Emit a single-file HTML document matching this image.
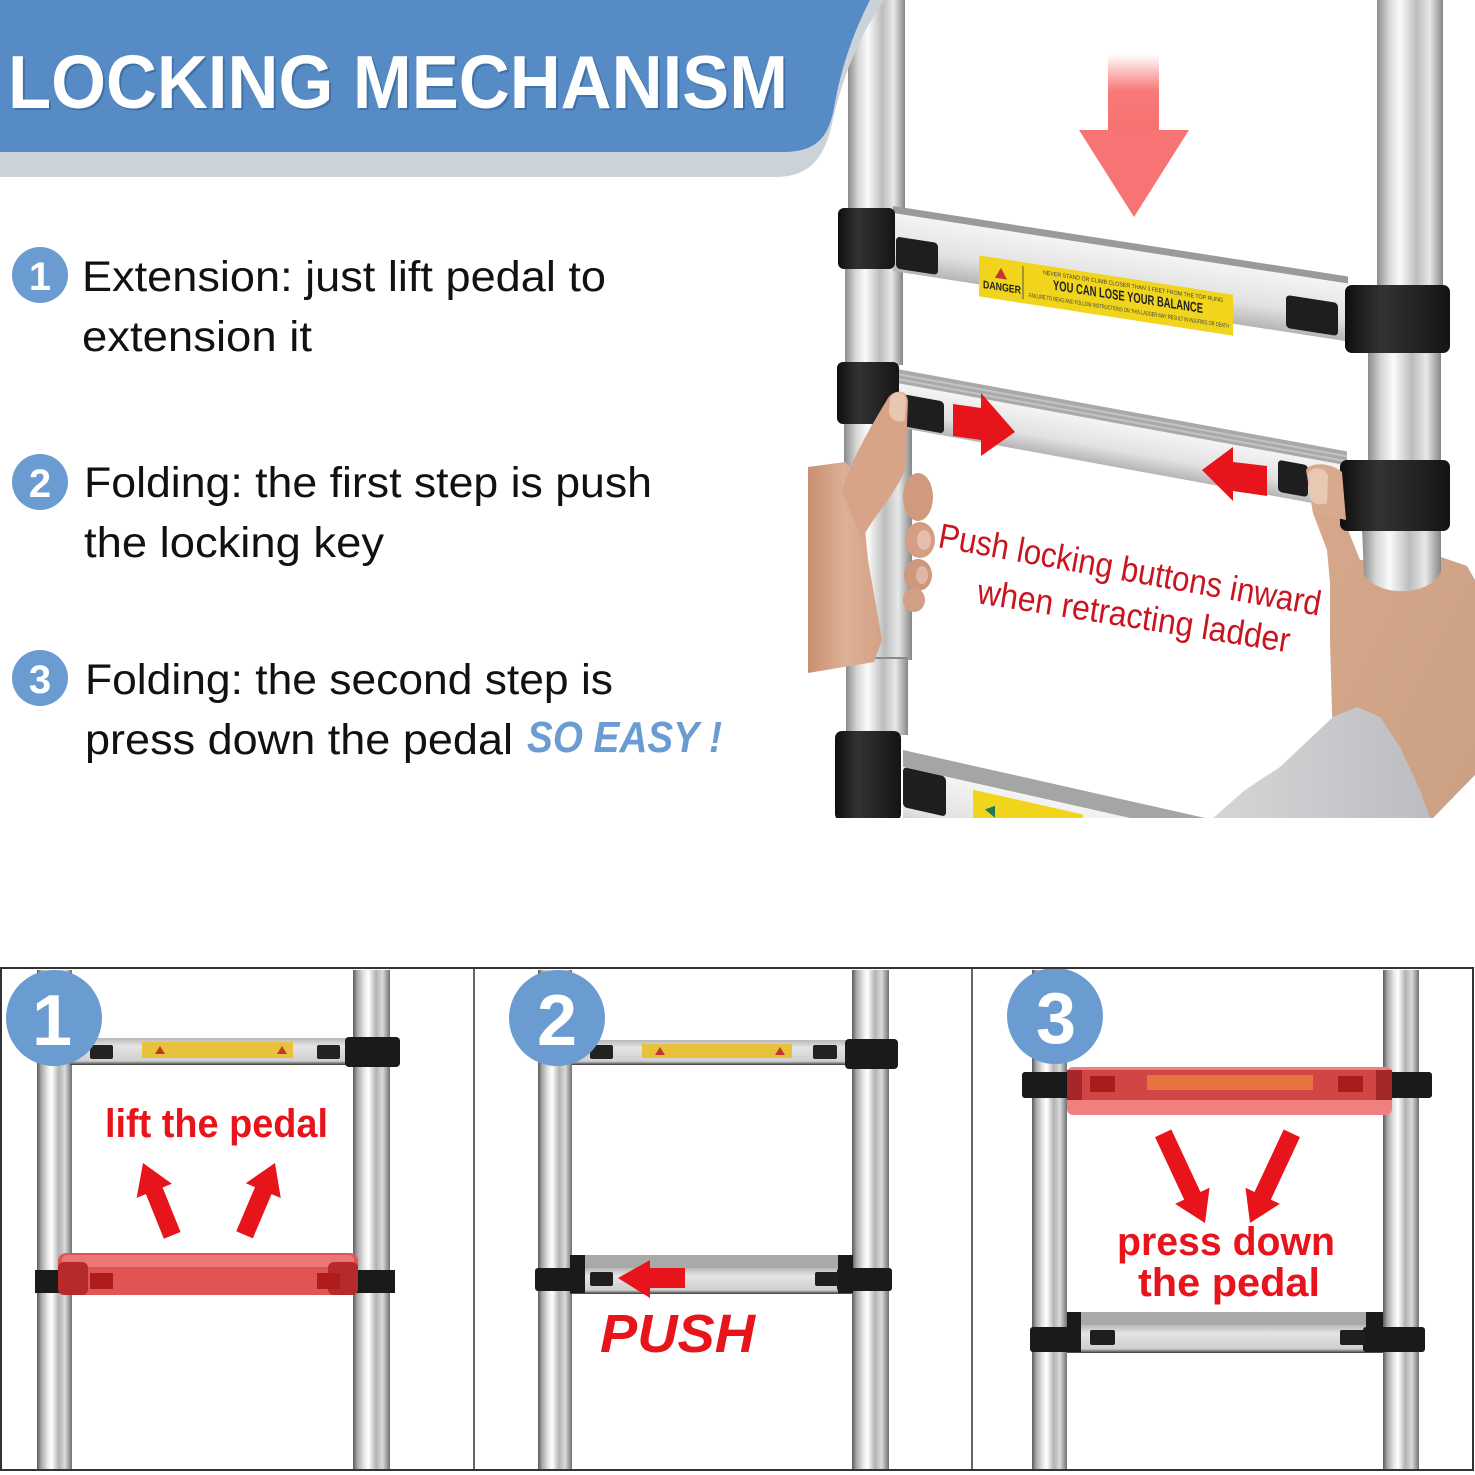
<!DOCTYPE html>
<html><head><meta charset="utf-8"><style>
html,body{margin:0;padding:0;background:#fff;}
svg{display:block;}
text{font-family:"Liberation Sans",sans-serif;}
</style></head><body>
<svg width="1475" height="1475" viewBox="0 0 1475 1475" xmlns="http://www.w3.org/2000/svg">
<defs>
 <linearGradient id="post" x1="0" x2="1" y1="0" y2="0">
  <stop offset="0" stop-color="#8c8c8c"/><stop offset="0.18" stop-color="#d6d6d6"/>
  <stop offset="0.35" stop-color="#fbfbfb"/><stop offset="0.6" stop-color="#bcbcbc"/>
  <stop offset="0.8" stop-color="#e8e8e8"/><stop offset="1" stop-color="#868686"/>
 </linearGradient>
 <linearGradient id="bpost" x1="0" x2="1" y1="0" y2="0">
  <stop offset="0" stop-color="#5a5a5a"/><stop offset="0.12" stop-color="#a8a8a8"/>
  <stop offset="0.3" stop-color="#e6e6e6"/><stop offset="0.42" stop-color="#ffffff"/>
  <stop offset="0.62" stop-color="#b3b3b3"/><stop offset="0.8" stop-color="#dadada"/>
  <stop offset="1" stop-color="#707070"/>
 </linearGradient>
 <linearGradient id="rung" x1="0" x2="0" y1="0" y2="1">
  <stop offset="0" stop-color="#b8b8b8"/><stop offset="0.3" stop-color="#e4e4e4"/>
  <stop offset="0.85" stop-color="#cfcfcf"/><stop offset="1" stop-color="#3a3a3a"/>
 </linearGradient>
 <linearGradient id="face" x1="0" x2="0" y1="0" y2="1">
  <stop offset="0" stop-color="#f4f4f4"/><stop offset="0.6" stop-color="#e2e2e2"/>
  <stop offset="1" stop-color="#b5b5b5"/>
 </linearGradient>
 <linearGradient id="clamp" x1="0" x2="1" y1="0" y2="0">
  <stop offset="0" stop-color="#0e0e0e"/><stop offset="0.35" stop-color="#333"/>
  <stop offset="1" stop-color="#141414"/>
 </linearGradient>
 <linearGradient id="shaft" x1="0" x2="0" y1="0" y2="1">
  <stop offset="0" stop-color="#ffffff"/><stop offset="0.25" stop-color="#ffffff"/>
  <stop offset="0.6" stop-color="#f97a7a"/><stop offset="1" stop-color="#f87070"/>
 </linearGradient>
 <linearGradient id="skinL" x1="0" x2="1" y1="0" y2="0">
  <stop offset="0" stop-color="#c98f73"/><stop offset="0.5" stop-color="#ddb096"/>
  <stop offset="1" stop-color="#d4a286"/>
 </linearGradient>
 <linearGradient id="skinR" x1="0" x2="1" y1="0" y2="1">
  <stop offset="0" stop-color="#d8a88c"/><stop offset="1" stop-color="#caa083"/>
 </linearGradient>
 <linearGradient id="sleeve" x1="0" x2="1" y1="0" y2="0">
  <stop offset="0" stop-color="#d6d6d8"/><stop offset="1" stop-color="#bdbdc1"/>
 </linearGradient>
 <clipPath id="photo"><rect x="808" y="0" width="667" height="818"/></clipPath>
</defs>

<!-- ================= PHOTO (top right) ================= -->
<g clip-path="url(#photo)">
 <!-- posts -->
 <rect x="848" y="0" width="57" height="215" fill="url(#post)"/>
 <rect x="845" y="265" width="58" height="100" fill="url(#post)"/>
 <rect x="844" y="420" width="68" height="240" fill="url(#post)"/>
 <rect x="846" y="657" width="62" height="78" fill="url(#post)"/>
 <line x1="846" y1="658" x2="908" y2="658" stroke="#8a8a8a" stroke-width="2"/>
 <rect x="1377" y="0" width="66" height="290" fill="url(#post)"/>
 <rect x="1368" y="350" width="73" height="115" fill="url(#post)"/>

 <!-- right hand -->
 <path d="M1306,470 C1310,462 1330,462 1340,472 L1346,525 L1360,560 L1441,557 L1467,566 L1475,580 L1475,775 L1433,818 L1340,818 L1332,713 L1330,640 L1330,583 L1327,550 L1313,513 Z" fill="url(#skinR)"/>
 <path d="M1307,472 C1310,464 1326,464 1328,474 L1327,505 C1320,508 1312,506 1309,500 Z" fill="#e6c3ad"/>
 <!-- right post bottom (over hand) -->
 <path d="M1362,528 L1441,528 L1441,572 C1430,596 1380,598 1364,575 Z" fill="url(#post)"/>

 <!-- sleeve -->
 <path d="M1213,818 L1245,790 L1280,767 L1333,717 L1357,707 L1380,717 L1400,747 L1420,790 L1430,818 Z" fill="url(#sleeve)"/>

 <!-- top rung -->
 <g transform="matrix(1,0.155,0,1,893,206)">
  <rect x="0" y="0" width="455" height="8" fill="#9a9a9a"/>
  <rect x="0" y="7" width="455" height="58" fill="url(#face)"/>
  <rect x="3" y="30" width="42" height="32" rx="4" fill="#1e1e1e"/>
  <rect x="393" y="28" width="52" height="33" rx="4" fill="#1e1e1e"/>
  <rect x="86" y="36" width="254" height="41" fill="#f0d51c"/>
  <line x1="130" y1="40" x2="130" y2="73" stroke="#555" stroke-width="1"/>
  <polygon points="108,45 102,56 114,56" fill="#c0392b"/>
  <text x="90" y="68" font-size="11" font-weight="bold" fill="#222" textLength="38" lengthAdjust="spacingAndGlyphs">DANGER</text>
  <text x="150" y="45" font-size="6" fill="#444" textLength="180" lengthAdjust="spacingAndGlyphs">NEVER STAND OR CLIMB CLOSER THAN 3 FEET FROM THE TOP RUNG</text>
  <text x="160" y="59" font-size="14" font-weight="bold" fill="#222" textLength="150" lengthAdjust="spacingAndGlyphs">YOU CAN LOSE YOUR BALANCE</text>
  <text x="136" y="70" font-size="6" fill="#444" textLength="200" lengthAdjust="spacingAndGlyphs">FAILURE TO READ AND FOLLOW INSTRUCTIONS ON THIS LADDER MAY RESULT IN INJURIES OR DEATH</text>
 </g>
 <!-- second rung -->
 <g transform="matrix(1,0.183,0,1,897,369)">
  <rect x="0" y="0" width="450" height="15" fill="#a9a9a9"/>
  <rect x="0" y="4" width="450" height="2" fill="#c4c4c4"/>
  <rect x="0" y="9" width="450" height="2" fill="#c4c4c4"/>
  <rect x="0" y="14" width="450" height="44" fill="url(#face)"/>
  <rect x="6" y="24" width="41" height="32" rx="4" fill="#1e1e1e"/>
  <rect x="381" y="21" width="30" height="32" rx="4" fill="#1e1e1e"/>
 </g>
 <!-- bottom rung -->
 <g transform="matrix(1,0.225,0,1,903,750)">
  <rect x="0" y="0" width="320" height="17" fill="#a5a5a5"/>
  <rect x="0" y="17" width="320" height="70" fill="url(#face)"/>
  <rect x="0" y="17" width="43" height="40" rx="4" fill="#1e1e1e"/>
  <rect x="70" y="24" width="110" height="50" fill="#f0d51c"/>
  <polygon points="82,41 92,35 92,47" fill="#1e7a5a"/>
 </g>

 <!-- clamps -->
 <rect x="838" y="208" width="57" height="61" rx="6" fill="url(#clamp)"/>
 <rect x="1345" y="285" width="105" height="68" rx="7" fill="url(#clamp)"/>
 <rect x="837" y="362" width="62" height="62" rx="6" fill="url(#clamp)"/>
 <rect x="1340" y="460" width="110" height="71" rx="7" fill="url(#clamp)"/>
 <rect x="835" y="731" width="66" height="90" rx="7" fill="url(#clamp)"/>

 <!-- right thumb over clamp edge -->
 <path d="M1306,470 C1310,462 1330,462 1342,472 L1346,520 L1313,513 Z" fill="#d9a98d"/>
 <path d="M1308,474 C1311,466 1325,466 1328,476 L1327,503 C1320,506 1312,504 1310,498 Z" fill="#e9c8b3"/>

 <!-- left hand -->
 <path d="M808,467 L845,462 L860,478 L868,560 L882,640 L874,662 L808,673 Z" fill="url(#skinL)"/>
 <path d="M842,492 C850,460 875,420 888,398 C895,388 908,390 908,402 L905,470 C895,495 870,520 862,540 Z" fill="#d7a487"/>
 <path d="M890,398 C894,390 905,390 906,400 L905,420 C898,424 890,420 889,412 Z" fill="#e9c6b0"/>
 <ellipse cx="918" cy="497" rx="15" ry="24" fill="#d09a7f"/>
 <ellipse cx="920" cy="540" rx="15" ry="18" fill="#d39e83"/>
 <ellipse cx="918" cy="575" rx="14" ry="16" fill="#cf987d"/>
 <ellipse cx="914" cy="600" rx="11" ry="12" fill="#d3a085"/>
 <ellipse cx="924" cy="540" rx="7" ry="10" fill="#e4bfae"/>
 <ellipse cx="922" cy="575" rx="6" ry="9" fill="#e0b6a3"/>

 <!-- big pink down arrow -->
 <rect x="1108" y="28" width="51" height="104" fill="url(#shaft)"/>
 <polygon points="1079,130 1189,130 1134,217" fill="#f87373"/>

 <!-- red arrows on rung -->
 <polygon points="953,404 981,408 981,393 1015,432 981,456 981,440 953,436" fill="#e8141c"/>
 <polygon points="1267,466 1233,462 1233,447 1202,470 1233,501 1233,491 1267,496" fill="#e8141c"/>

 <!-- photo text -->
 <text transform="translate(937,547) rotate(10.2)" font-size="35" fill="#c8151f" textLength="388" lengthAdjust="spacingAndGlyphs">Push locking buttons inward</text>
 <text transform="translate(976,603) rotate(9)" font-size="35" fill="#c8151f" textLength="316" lengthAdjust="spacingAndGlyphs">when retracting ladder</text>
</g>

<!-- ================= BANNER ================= -->
<path d="M0,100 L0,177 L778,177 C808,176 823,160 831,128 C840,86 856,40 884,0 L868,0 Z" fill="#ccd3d8"/>
<path d="M0,0 L870,0 C852,35 840,72 834,108 C828,140 814,151 786,152 L0,152 Z" fill="#568bc5"/>
<text x="10" y="110" font-size="75" font-weight="bold" fill="#2d5a8a" opacity="0.5" textLength="780" lengthAdjust="spacingAndGlyphs">LOCKING MECHANISM</text>
<text x="8" y="108" font-size="75" font-weight="bold" fill="#ffffff" textLength="780" lengthAdjust="spacingAndGlyphs">LOCKING MECHANISM</text>

<!-- ================= LIST ================= -->
<g font-size="43" fill="#111">
 <circle cx="40" cy="275" r="28" fill="#6a9cd2"/>
 <text x="40" y="290" font-size="40" font-weight="bold" fill="#fff" text-anchor="middle">1</text>
 <text x="82" y="291" textLength="524" lengthAdjust="spacingAndGlyphs">Extension: just lift pedal to</text>
 <text x="82" y="351" textLength="230" lengthAdjust="spacingAndGlyphs">extension it</text>

 <circle cx="40" cy="482" r="28" fill="#6a9cd2"/>
 <text x="40" y="497" font-size="40" font-weight="bold" fill="#fff" text-anchor="middle">2</text>
 <text x="84" y="497" textLength="568" lengthAdjust="spacingAndGlyphs">Folding: the first step is push</text>
 <text x="84" y="557" textLength="300" lengthAdjust="spacingAndGlyphs">the locking key</text>

 <circle cx="40" cy="678" r="28" fill="#6a9cd2"/>
 <text x="40" y="693" font-size="40" font-weight="bold" fill="#fff" text-anchor="middle">3</text>
 <text x="85" y="694" textLength="528" lengthAdjust="spacingAndGlyphs">Folding: the second step is</text>
 <text x="85" y="754" textLength="428" lengthAdjust="spacingAndGlyphs">press down the pedal</text>
 <text x="527" y="752" font-size="44" font-weight="bold" font-style="italic" fill="#6a9cd2" textLength="195" lengthAdjust="spacingAndGlyphs">SO EASY !</text>
</g>

<!-- ================= PANEL 1 ================= -->
<rect x="37" y="970" width="35" height="500" fill="url(#bpost)"/>
<rect x="353" y="970" width="37" height="500" fill="url(#bpost)"/>
<rect x="70" y="1038" width="285" height="27" fill="url(#rung)"/>
<rect x="142" y="1042" width="151" height="16" fill="#e8c23c"/>
<polygon points="160,1046 155,1054 165,1054" fill="#c0392b"/>
<polygon points="282,1046 277,1054 287,1054" fill="#c0392b"/>
<rect x="90" y="1045" width="23" height="14" rx="2" fill="#222"/>
<rect x="317" y="1045" width="23" height="14" rx="2" fill="#222"/>
<rect x="345" y="1037" width="55" height="30" rx="4" fill="#1a1a1a"/>
<rect x="35" y="1270" width="27" height="23" fill="#1a1a1a"/>
<rect x="355" y="1270" width="40" height="23" fill="#1a1a1a"/>
<rect x="58" y="1253" width="300" height="42" rx="8" fill="#e05454"/>
<rect x="62" y="1255" width="292" height="12" rx="5" fill="#ea7676"/>
<rect x="58" y="1262" width="30" height="33" rx="6" fill="#b62a2a"/>
<rect x="328" y="1262" width="30" height="33" rx="6" fill="#b62a2a"/>
<rect x="90" y="1273" width="23" height="16" fill="#b01c1c"/>
<rect x="317" y="1273" width="23" height="16" fill="#b01c1c"/>
<text x="105" y="1137" font-size="40" font-weight="bold" fill="#e8141c" textLength="223" lengthAdjust="spacingAndGlyphs">lift the pedal</text>
<polygon points="0,0 19,30 9,30 9,78 -9,78 -9,30 -19,30" fill="#e8141c" transform="translate(143,1163) rotate(-22)"/>
<polygon points="0,0 19,30 9,30 9,78 -9,78 -9,30 -19,30" fill="#e8141c" transform="translate(275,1163) rotate(23)"/>
<circle cx="54" cy="1018" r="48" fill="#6a9cd2"/>
<text x="52" y="1045" font-size="72" font-weight="bold" fill="#fff" text-anchor="middle">1</text>

<!-- ================= PANEL 2 ================= -->
<rect x="538" y="970" width="34" height="500" fill="url(#bpost)"/>
<rect x="852" y="970" width="37" height="500" fill="url(#bpost)"/>
<rect x="572" y="1040" width="282" height="25" fill="url(#rung)"/>
<rect x="642" y="1044" width="150" height="14" fill="#e8c23c"/>
<polygon points="660,1047 655,1055 665,1055" fill="#c0392b"/>
<polygon points="780,1047 775,1055 785,1055" fill="#c0392b"/>
<rect x="590" y="1045" width="23" height="14" rx="2" fill="#222"/>
<rect x="813" y="1045" width="24" height="14" rx="2" fill="#222"/>
<rect x="845" y="1039" width="53" height="30" rx="4" fill="#1a1a1a"/>
<rect x="570" y="1255" width="282" height="14" fill="#a9a9a9"/>
<rect x="570" y="1268" width="282" height="26" fill="url(#rung)"/>
<rect x="535" y="1268" width="48" height="23" rx="3" fill="#1a1a1a"/>
<rect x="837" y="1268" width="55" height="23" rx="3" fill="#1a1a1a"/>
<rect x="570" y="1255" width="15" height="38" fill="#1a1a1a"/>
<rect x="838" y="1255" width="15" height="38" fill="#1a1a1a"/>
<rect x="590" y="1272" width="23" height="14" rx="2" fill="#1e1e1e"/>
<rect x="815" y="1272" width="23" height="14" rx="2" fill="#1e1e1e"/>
<polygon points="618,1278 650,1260 650,1268 685,1268 685,1288 650,1288 650,1298" fill="#e8141c"/>
<text x="600" y="1352" font-size="54" font-weight="bold" font-style="italic" fill="#e8141c" textLength="155" lengthAdjust="spacingAndGlyphs">PUSH</text>
<circle cx="557" cy="1018" r="48" fill="#6a9cd2"/>
<text x="557" y="1045" font-size="72" font-weight="bold" fill="#fff" text-anchor="middle">2</text>

<!-- ================= PANEL 3 ================= -->
<rect x="1032" y="970" width="35" height="500" fill="url(#bpost)"/>
<rect x="1383" y="970" width="36" height="500" fill="url(#bpost)"/>
<rect x="1022" y="1072" width="48" height="26" rx="3" fill="#1a1a1a"/>
<rect x="1390" y="1072" width="42" height="26" rx="3" fill="#1a1a1a"/>
<rect x="1067" y="1067" width="325" height="48" rx="6" fill="#f08080"/>
<rect x="1067" y="1070" width="325" height="30" rx="4" fill="#d24545"/>
<rect x="1067" y="1070" width="15" height="30" fill="#a52828"/>
<rect x="1376" y="1070" width="16" height="30" fill="#a52828"/>
<rect x="1147" y="1075" width="166" height="15" fill="#e9733d"/>
<rect x="1090" y="1076" width="25" height="16" fill="#a81c1c"/>
<rect x="1338" y="1076" width="25" height="16" fill="#a81c1c"/>
<rect x="1067" y="1312" width="316" height="14" fill="#a9a9a9"/>
<rect x="1067" y="1325" width="316" height="28" fill="url(#rung)"/>
<rect x="1030" y="1327" width="50" height="25" rx="3" fill="#1a1a1a"/>
<rect x="1363" y="1327" width="62" height="25" rx="3" fill="#1a1a1a"/>
<rect x="1067" y="1312" width="14" height="40" fill="#1a1a1a"/>
<rect x="1366" y="1312" width="17" height="40" fill="#1a1a1a"/>
<rect x="1090" y="1330" width="25" height="15" rx="2" fill="#1e1e1e"/>
<rect x="1340" y="1330" width="25" height="15" rx="2" fill="#1e1e1e"/>
<polygon points="0,0 19,30 9,30 9,99 -9,99 -9,30 -19,30" fill="#e8141c" transform="translate(1205,1223) rotate(155)"/>
<polygon points="0,0 19,30 9,30 9,99 -9,99 -9,30 -19,30" fill="#e8141c" transform="translate(1250,1223) rotate(-155)"/>
<text x="1117" y="1255" font-size="40" font-weight="bold" fill="#e8141c" textLength="218" lengthAdjust="spacingAndGlyphs">press down</text>
<text x="1138" y="1296" font-size="40" font-weight="bold" fill="#e8141c" textLength="182" lengthAdjust="spacingAndGlyphs">the pedal</text>
<circle cx="1055" cy="1016" r="48" fill="#6a9cd2"/>
<text x="1056" y="1043" font-size="72" font-weight="bold" fill="#fff" text-anchor="middle">3</text>

<!-- frame -->
<rect x="1" y="968" width="1472" height="502" fill="none" stroke="#333" stroke-width="2"/>
<line x1="474" y1="968" x2="474" y2="1470" stroke="#333" stroke-width="1.5"/>
<line x1="972" y1="968" x2="972" y2="1470" stroke="#333" stroke-width="1.5"/>
</svg>
</body></html>
